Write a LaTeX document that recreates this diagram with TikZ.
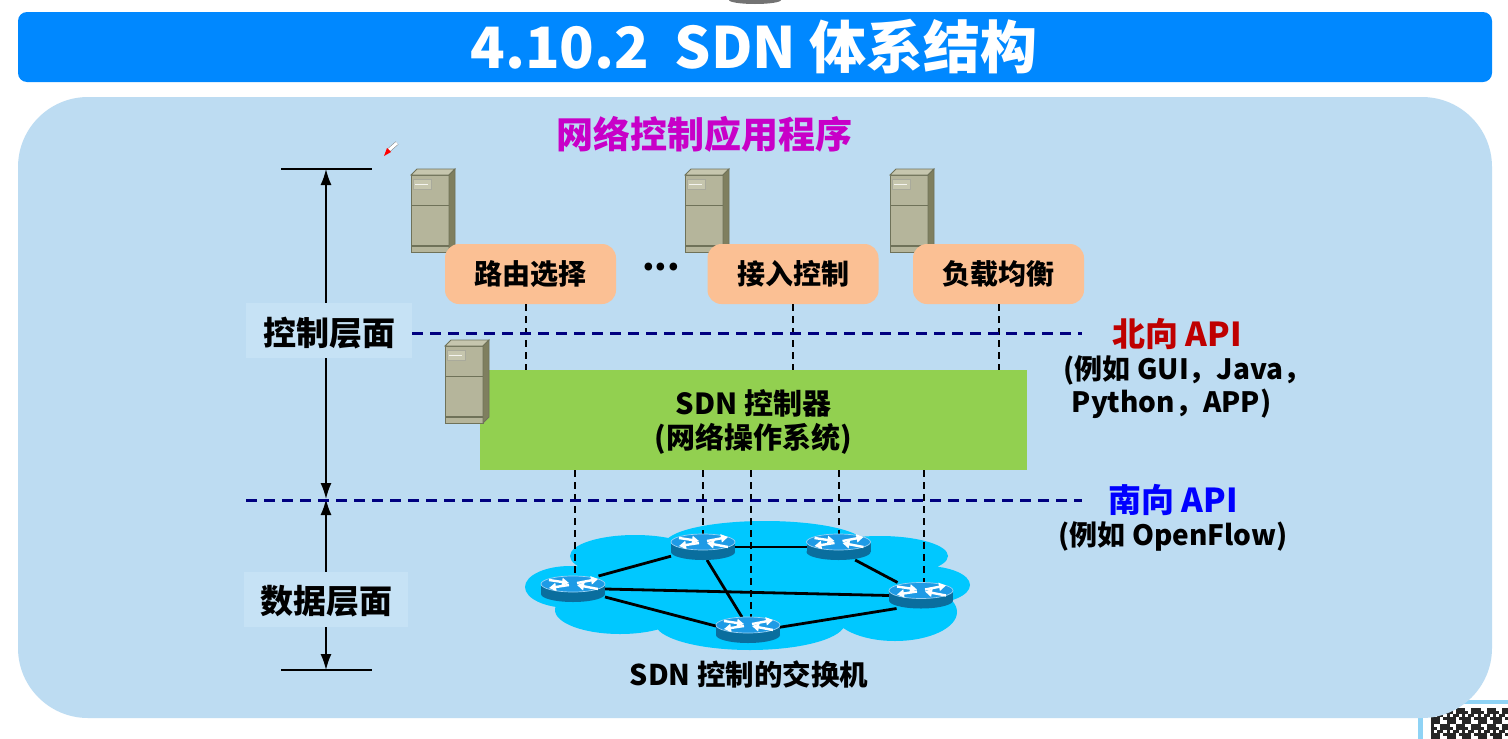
\documentclass[tikz,border=0pt]{standalone}
\usepackage{fontspec}
\setmainfont{Noto Sans CJK SC}
\usetikzlibrary{arrows.meta}
\definecolor{titleblue}{HTML}{0088FF}
\definecolor{panel}{HTML}{BDDCF2}
\definecolor{labelbg}{HTML}{C6E2F5}
\definecolor{orangebox}{HTML}{FBC094}
\definecolor{greenbox}{HTML}{92D050}
\definecolor{cloudc}{HTML}{00C8FF}
\definecolor{navyd}{HTML}{000080}
\definecolor{srvf}{HTML}{B5B59B}
\definecolor{srvt}{HTML}{C6C6AE}
\definecolor{srvs}{HTML}{7F7F5F}
\definecolor{srve}{HTML}{6F7259}
\definecolor{rtop}{HTML}{1E9BE6}
\definecolor{rside}{HTML}{0A6E9E}
\definecolor{headc}{HTML}{C800C8}
\definecolor{qrframe}{HTML}{8FD3F5}
\tikzset{
  txt/.style={font=\bfseries\fontsize{#1}{#1}\selectfont,inner sep=0pt,align=center,text=black},
  orange/.style={fill=orangebox,rounded corners=14pt,minimum width=171pt,minimum height=60pt,inner sep=0pt,font=\bfseries\fontsize{28}{28}\selectfont},
  layerlabel/.style={fill=labelbg,minimum height=55pt,inner sep=0pt,font=\bfseries\fontsize{33}{33}\selectfont},
  apiline/.style={navyd,line width=3pt,dash pattern=on 11pt off 7pt},
  ctl/.style={black,line width=1.8pt,dash pattern=on 7pt off 5pt},
  dimline/.style={black,line width=1.6pt},
  dimarrow/.style={black,line width=1.6pt,{Latex[length=16pt,width=11pt]}-{Latex[length=16pt,width=11pt]}},
  link/.style={black,line width=2.8pt},
  routerspot/.style={minimum width=64pt,minimum height=26pt,inner sep=0pt,outer sep=0pt},
  rarrow/.style={white,line width=2.4pt,-{Triangle[length=7pt,width=8pt]}},
}
\newcommand{\serverat}[2]{%
 \begin{scope}[shift={(#1,#2)}]
  \fill[srvf,draw=srve,line width=.8pt] (0,6) rectangle (38,83);
  \fill[srvt,draw=srve,line width=.8pt] (0,6) -- (6,0) -- (44,0) -- (38,6) -- cycle;
  \fill[srvs,draw=srve,line width=.8pt] (38,6) -- (44,0) -- (44,77) -- (38,83) -- cycle;
  \draw[srve,line width=.8pt] (0,36) -- (38,36);
  \draw[srve,line width=1.2pt] (0,77) -- (38,77);
  \fill[srvt,draw=srve!60,line width=.6pt] (2,10) rectangle (20,20);
  \draw[white!80!srvt,line width=.8pt] (4,15) -- (17,15);
 \end{scope}}
\newcommand{\routerat}[1]{%
 \begin{scope}[shift={(#1)}]
  \fill[rside] (0,5) ellipse[x radius=32,y radius=8];
  \fill[rside] (-32,-5) rectangle (32,5);
  \fill[rtop,draw=white!55!rtop,line width=.7pt] (0,-5) ellipse[x radius=32,y radius=8];
  \draw[rarrow] (-24,-9) -- (-4,-6);
  \draw[rarrow] (4,-6) -- (25,-10);
  \draw[rarrow] (-4,-4) -- (-24,-1);
  \draw[rarrow] (25,0) -- (4,-4);
 \end{scope}}
\begin{document}
\begin{tikzpicture}[x=1pt,y=-1pt]
\useasboundingbox (0,0) rectangle (1508,739);
\fill[white] (0,0) rectangle (1508,739);
% camera notch
\fill[black!55] (755,0) ellipse[x radius=26,y radius=4];
% title
\fill[titleblue,rounded corners=9pt] (18,12) rectangle (1492,82);
\node[txt=57,text=white] (title) at (754,47) {4.10.2\hspace{.45em}SDN 体系结构};
% QR corner
\fill[qrframe] (1418,700) rectangle (1508,739);
\fill[white] (1423,704) rectangle (1508,739);
\foreach \i in {0,...,24}{\foreach \j in {0,...,9}{
  \pgfmathtruncatemacro{\q}{mod(\i*\i*3+\j*\j*5+\i*\j*7+\i,5)}
  \ifnum\q<3 \fill[black!85] (1431+\i*3.1,708+\j*3.1) rectangle +(3.1,3.1);\fi
}}
% panel
\fill[panel,rounded corners=70pt] (18,97) rectangle (1492,718);
% pen cursor
\draw[black!50,line width=4pt] (397,143) -- (389,150);
\draw[white,line width=3pt] (397,143) -- (389,150);
\fill[red] (384,156) -- (387,148) -- (391,152) -- cycle;
% heading
\node[txt=37,text=headc] (apps) at (704,134) {网络控制应用程序};
% dim lines
\coordinate (dt) at (326,169);
\coordinate (dm) at (326,499);
\coordinate (db) at (326,670);
\coordinate (dtl) at (281,169); \coordinate (dtr) at (372,169);
\coordinate (dbl) at (281,670); \coordinate (dbr) at (372,670);
\draw[dimline] (dtl) -- (dtr);
\draw[dimline] (dbl) -- (dbr);
\draw[dimarrow] (dt) -- (dm);
\draw[dimarrow] (dm) -- (db);
\node[layerlabel,minimum width=166pt] (ctrl) at (329,330.5) {\rule{0pt}{33pt}控制层面};
\node[layerlabel,minimum width=164pt] (data) at (326,599.5) {\rule{0pt}{31pt}数据层面};
% servers
\serverat{411}{169}
\serverat{685}{169}
\serverat{890}{169}
% boxes
\node[orange] (route) at (530.5,274) {路由选择};
\node[orange] (access) at (793,274) {接入控制};
\node[orange] (balance) at (998.5,274) {负载均衡};
\node[txt=36] (dots) at (661,267) {...};
\node[fill=greenbox,minimum width=547pt,minimum height=100pt,inner sep=0pt,align=center,font=\bfseries\fontsize{29}{34}\selectfont] (ctrlr) at (753.5,420) {\rule{0pt}{29pt}SDN 控制器\\(网络操作系统)};
\serverat{445}{340}
% cloud
\fill[cloudc] (570,587) ellipse[x radius=45,y radius=21]
 (635,556) ellipse[x radius=65,y radius=21]
 (765,544) ellipse[x radius=100,y radius=23]
 (880,556) ellipse[x radius=68,y radius=20]
 (925,585) ellipse[x radius=45,y radius=19]
 (620,610) ellipse[x radius=65,y radius=24]
 (750,623) ellipse[x radius=95,y radius=27]
 (895,612) ellipse[x radius=62,y radius=29]
 (750,585) ellipse[x radius=190,y radius=45];
% router spots
\node[routerspot] (r1) at (573,589) {};
\node[routerspot] (r2) at (703,547) {};
\node[routerspot] (r3) at (838.5,547) {};
\node[routerspot] (r4) at (921,595.5) {};
\node[routerspot] (r5) at (748,630) {};
% control dashed
\coordinate (c1) at (526,370);
\coordinate (c2) at (999,370);
\coordinate (b1) at (575,470);
\coordinate (b2) at (703,470);
\coordinate (b3) at (751,470);
\coordinate (b4) at (839,470);
\coordinate (b5) at (924,470);
\draw[ctl] (c1 |- route.south) -- (c1);
\draw[ctl] (access.south) -- (access.south |- ctrlr.north);
\draw[ctl] (c2 |- balance.south) -- (c2);
\draw[ctl] (b1) -- (b1 |- r1.north);
\draw[ctl] (b2) -- (b2 |- r2.north);
\draw[ctl] (b3) -- (b3 |- r5.north);
\draw[ctl] (b4) -- (b4 |- r3.north);
\draw[ctl] (b5) -- (b5 |- r4.north);
% api lines
\coordinate (n1) at (412,333); \coordinate (n2) at (1082,333);
\coordinate (s1) at (246,500); \coordinate (s2) at (1082,500);
\draw[apiline] (n1) -- (n2);
\draw[apiline] (s1) -- (s2);
% links
\draw[link] (r1.27) -- (r2.196);
\draw[link] (r2.east) -- (r3.west);
\draw[link] (r3.-38) -- (r4.151.5);
\draw[link] (r1.east) -- (r4.west);
\draw[link] (r1.-14) -- (r5.173);
\draw[link] (r2.-73) -- (r5.115);
\draw[link] (r5.5) -- (r4.208.7);
\routerat{r1}
\routerat{r2}
\routerat{r3}
\routerat{r4}
\routerat{r5}
% labels
\node[txt=33,text=red!75!black] (north) at (1177,334) {北向 API};
\node[txt=28] (northd) at (1187.5,387) {\fontsize{28}{34}\selectfont (例如 GUI，Java，\\[3pt]Python，APP)\hspace*{32pt}};
\node[txt=33,text=blue] (south) at (1173,500) {南向 API};
\node[txt=28] (southd) at (1173,536) {(例如 OpenFlow)};
\node[txt=28.5] (sw) at (749,674) {SDN 控制的交换机};
\end{tikzpicture}
\end{document}
